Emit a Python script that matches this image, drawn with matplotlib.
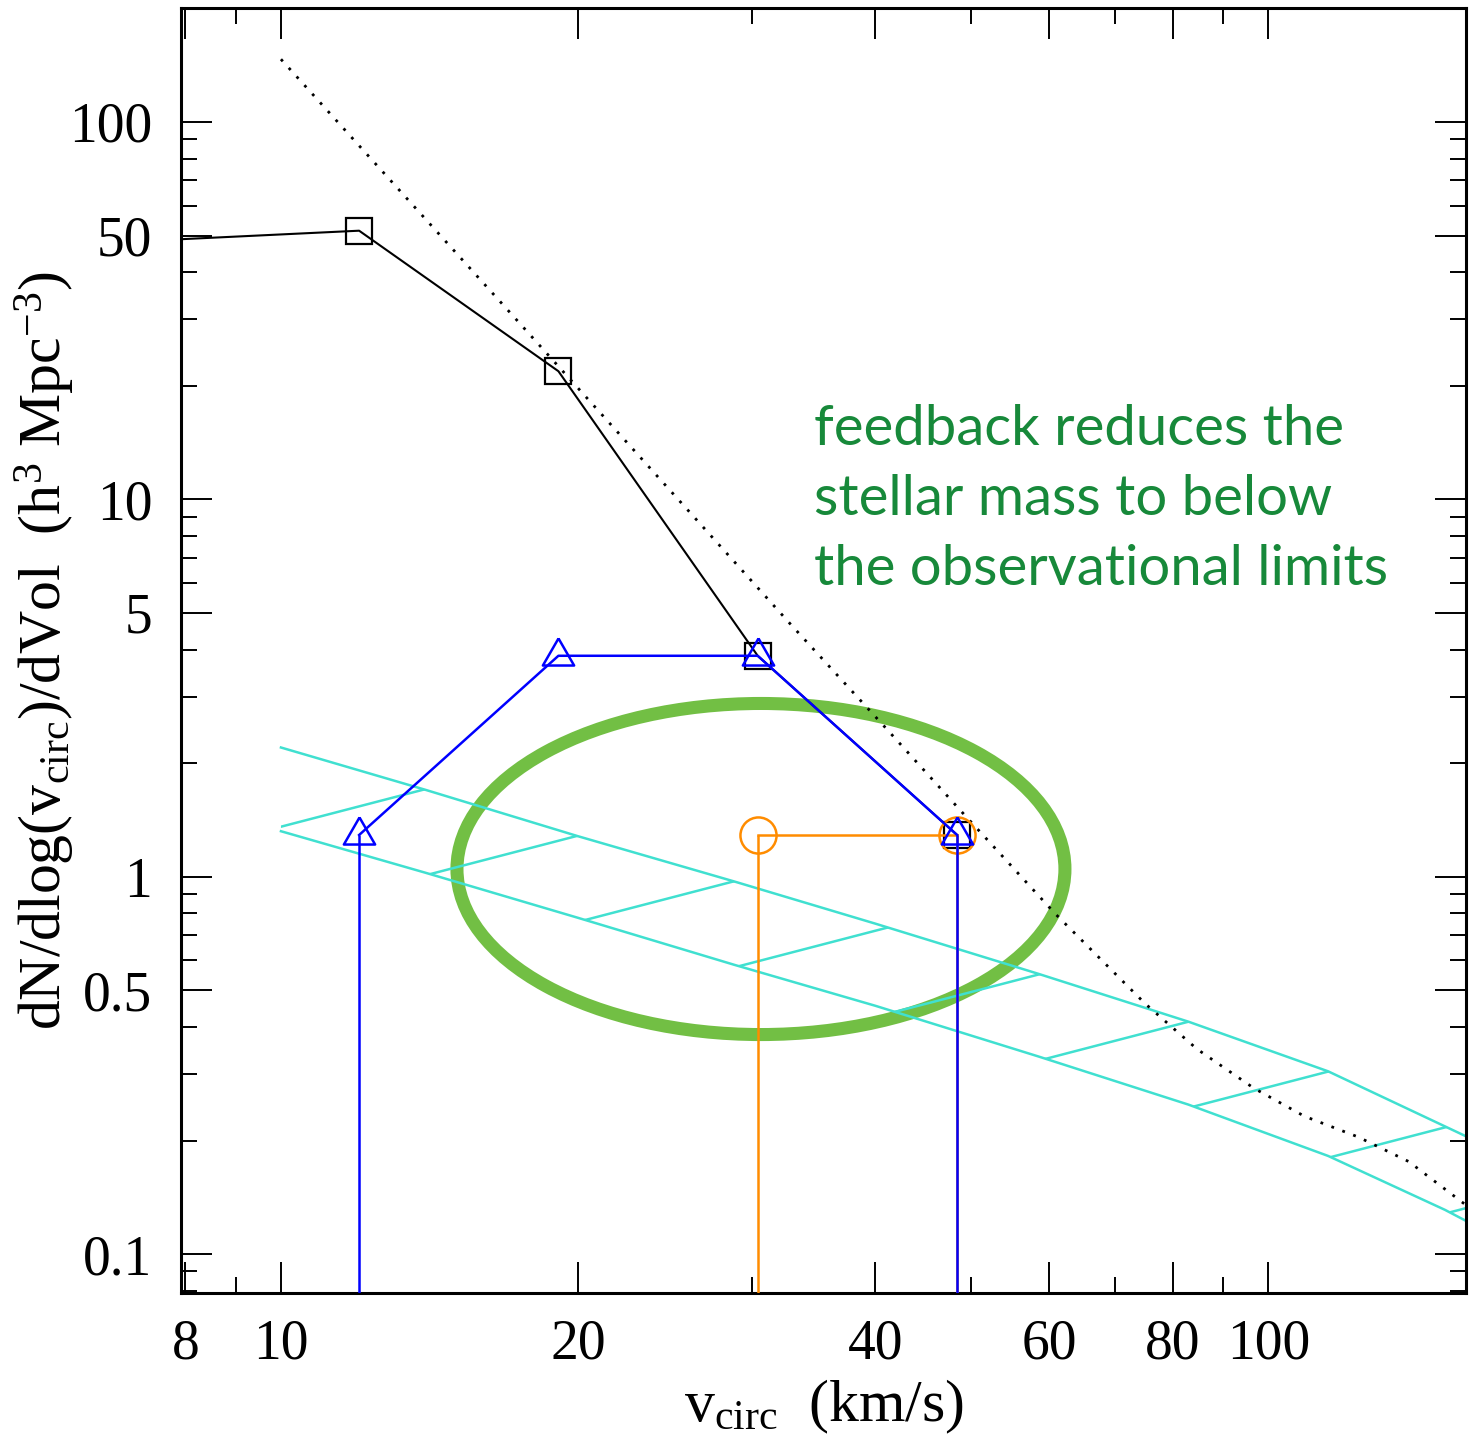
import numpy as np
import matplotlib
matplotlib.use("Agg")
import matplotlib.pyplot as plt
from matplotlib.patches import Ellipse
from matplotlib.ticker import FixedLocator, FixedFormatter, NullFormatter

# ---- data -------------------------------------------------------------
# all satellite subhaloes (black squares), bin centres in km/s
vc_bins = [7.55, 12.0, 19.1, 30.4, 48.4]
n_all = [48.6, 51.5, 21.85, 3.85, 1.29]

# satellites that host a visible galaxy (blue triangles)
vc_lum = [12.0, 19.1, 30.4, 48.4]
n_lum = [1.29, 3.85, 3.85, 1.29]

# bright satellites (orange circles)
vc_bright = [30.4, 48.4]
n_bright = [1.29, 1.29]

# dark-matter-only expectation (dotted)
vc_dmo = [10.0, 16.86, 32.77, 40.74, 48.93, 60.81, 75.02, 84.68,
          96.7, 108.8, 123.3, 138.7, 155.3, 160.0]
n_dmo = [146.6, 32.35, 4.688, 2.520, 1.485, 0.799, 0.4613, 0.3495,
         0.2752, 0.2319, 0.2044, 0.1760, 0.1406, 0.1325]

# observed satellite abundance band (hatched)
vc_band = [10.0, 14.0, 20.0, 28.8, 40.0, 58.5, 83.0, 115.0, 151.0, 160.0]
band_upper = [2.20, 1.70, 1.28, 0.971, 0.751, 0.553, 0.413, 0.305, 0.218, 0.203]
band_lower = [1.32, 1.025, 0.778, 0.584, 0.455, 0.334, 0.249, 0.182, 0.131, 0.121]

# axes ticks
x_major = [8, 10, 20, 40, 60, 80, 100]
x_major_labels = ["8", "10", "20", "40", "60", "80", "100"]
x_minor = [9, 30, 50, 70, 90]
y_major = [0.1, 0.5, 1, 5, 10, 50, 100]
y_major_labels = ["0.1", "0.5", "1", "5", "10", "50", "100"]
y_minor = [0.08, 0.09, 0.2, 0.3, 0.4, 0.6, 0.7, 0.8, 0.9,
           2, 3, 4, 6, 7, 8, 9, 20, 30, 40, 60, 70, 80, 90]

note_lines = ["feedback reduces the",
              "stellar mass to below",
              "the observational limits"]

# ---- style ------------------------------------------------------------
plt.rcParams["font.family"] = ["Liberation Serif", "DejaVu Serif"]
plt.rcParams["mathtext.fontset"] = "custom"
plt.rcParams["mathtext.rm"] = "Liberation Serif"
plt.rcParams["mathtext.it"] = "Liberation Serif:italic"

CYAN = "#40e0d0"
BLUE = "#0000ff"
ORANGE = "#ff8c00"
GREEN_RING = "#72bf44"
GREEN_TEXT = "#17893a"

fig = plt.figure(figsize=(14.78, 14.36), dpi=100)
ax = fig.add_axes([0.1228, 0.0999, 0.8691, 0.8943])
ax.set_xscale("log")
ax.set_yscale("log")
xlim = (7.93, 158.6)
ylim = (0.0791, 200.0)

# highlight ring
ax.add_patch(Ellipse((0.4511, 0.3298), 0.4733, 0.2578, transform=ax.transAxes,
                     fill=False, edgecolor=GREEN_RING, lw=9.4, zorder=1))

# hatched observational band
band = ax.fill_between(vc_band, band_lower, band_upper,
                       facecolor="none", edgecolor="none", zorder=2)
band_path = band.get_paths()[0]
ax.plot(vc_band, band_upper, color=CYAN, lw=1.8, zorder=2)
ax.plot(vc_band, band_lower, color=CYAN, lw=1.8, zorder=2)
xa = np.array([-0.2, 1.2])
for k in range(-4, 16):
    ln, = ax.plot(xa, 0.2601 * xa + 0.3426 - 0.06712 * k,
                  transform=ax.transAxes, color=CYAN, lw=1.8, zorder=2)
    ln.set_clip_path(band_path, ax.transData)

# dark-matter-only curve
ax.plot(vc_dmo, n_dmo, color="black", lw=2.0,
        linestyle=(0, (1.0, 3.2)), zorder=3)

# all subhaloes
ax.plot(vc_bins, n_all, color="black", lw=1.5, zorder=4)
ax.plot(vc_bins[1:], n_all[1:], linestyle="none", marker="s", ms=18.5,
        mfc="none", mec="black", mew=1.6, zorder=4)

floor = 1e-3
tri = [(0, 1), (-0.866, -0.5), (0.866, -0.5), (0, 1)]

# bright satellites
ax.vlines([vc_bright[0], vc_bright[-1]], floor, [n_bright[0], n_bright[-1]],
          color=ORANGE, lw=1.8, zorder=5)
ax.plot(vc_bright, n_bright, color=ORANGE, lw=1.8, marker="o", ms=26,
        mfc="none", mec=ORANGE, mew=1.8, zorder=5)

# luminous satellites
ax.vlines([vc_lum[0], vc_lum[-1]], floor, [n_lum[0], n_lum[-1]],
          color=BLUE, lw=1.8, zorder=6)
ax.plot(vc_lum, n_lum, color=BLUE, lw=1.8, marker=tri, ms=26,
        mfc="none", mec=BLUE, mew=1.8, zorder=6)

# annotation
for i, line in enumerate(note_lines):
    ax.text(0.4925, 0.6600 - i * 0.0545, line, transform=ax.transAxes,
            family="Lato", fontsize=40.5, color=GREEN_TEXT,
            ha="left", va="baseline", zorder=7)

# ---- axes -------------------------------------------------------------
ax.set_xlim(*xlim)
ax.set_ylim(*ylim)
ax.xaxis.set_major_locator(FixedLocator(x_major))
ax.xaxis.set_major_formatter(FixedFormatter(x_major_labels))
ax.xaxis.set_minor_locator(FixedLocator(x_minor))
ax.xaxis.set_minor_formatter(NullFormatter())
ax.yaxis.set_major_locator(FixedLocator(y_major))
ax.yaxis.set_major_formatter(FixedFormatter(y_major_labels))
ax.yaxis.set_minor_locator(FixedLocator(y_minor))
ax.yaxis.set_minor_formatter(NullFormatter())

ax.tick_params(which="both", direction="in", top=True, right=True,
               width=1.4, color="black")
ax.tick_params(which="major", length=22, pad=21, labelsize=40)
ax.tick_params(axis="x", which="major", pad=19)
ax.tick_params(which="minor", length=11.5)
for sp in ax.spines.values():
    sp.set_linewidth(2.2)

ax.set_xlabel(r"v$_{\mathrm{circ}}$  (km/s)", fontsize=43)
ax.set_ylabel(r"dN/dlog(v$_{\mathrm{circ}}$)/dVol  (h$^{3}$ Mpc$^{-3}$)",
              fontsize=43)
ax.xaxis.set_label_coords(0.5, -0.066)
ax.yaxis.set_label_coords(-0.081, 0.5)

fig.savefig("out.png", dpi=100)
